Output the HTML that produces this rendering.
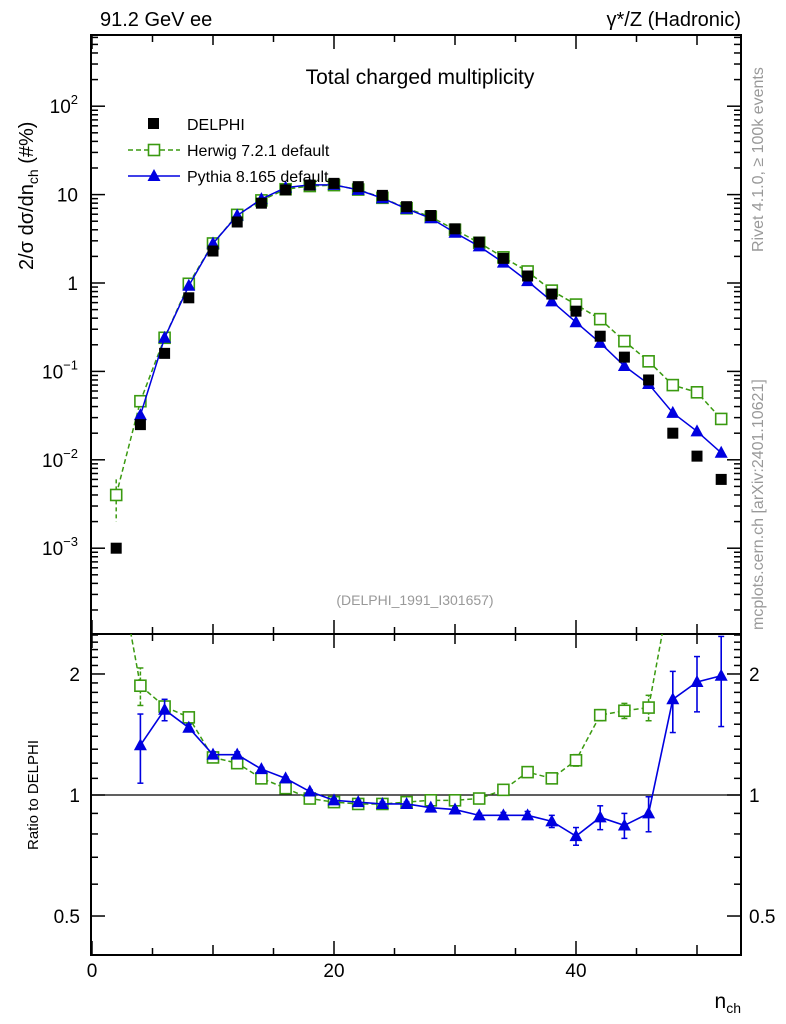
<!DOCTYPE html>
<html><head><meta charset="utf-8"><style>
body{margin:0;background:#fff;}
svg{display:block;font-family:"Liberation Sans",sans-serif;}
</style></head><body>
<svg id="c" width="786" height="1024" viewBox="0 0 786 1024"></svg>
<script>
const nvals=[2,4,6,8,10,12,14,16,18,20,22,24,26,28,30,32,34,36,38,40,42,44,46,48,50,52];
const delphi=[0.001,0.025,0.16,0.68,2.3,4.9,8.0,11.3,12.8,13.4,12.3,9.8,7.3,5.8,4.1,2.9,1.9,1.2,0.75,0.48,0.25,0.145,0.08,0.02,0.011,0.006];
const herwig=[0.004,0.046,0.24,0.98,2.8,5.9,8.6,11.5,12.5,12.8,11.4,9.2,7.0,5.6,4.0,2.85,1.95,1.35,0.82,0.57,0.39,0.22,0.13,0.07,0.058,0.029];
const pythiaN=[4,6,8,10,12,14,16,18,20,22,24,26,28,30,32,34,36,38,40,42,44,46,48,50,52];
const pythia=[0.032,0.24,0.93,2.8,5.8,8.9,12.0,12.9,12.9,11.3,9.1,6.9,5.4,3.7,2.6,1.7,1.05,0.62,0.36,0.21,0.115,0.072,0.034,0.021,0.012];
const herwigRatio=[4.0,1.87,1.66,1.56,1.24,1.2,1.1,1.04,0.98,0.96,0.95,0.95,0.96,0.97,0.97,0.98,1.03,1.14,1.1,1.22,1.58,1.62,1.65,3.5,5.3,4.8];
const herwigRatioErr=[0.5,0.2,0.05,0.03,0.02,0.02,0.01,0.01,0.01,0.01,0.01,0.01,0.01,0.01,0.01,0.01,0.01,0.02,0.02,0.04,0.05,0.07,0.12,0.3,0.5,0.6];
const pythiaRatio=[1.33,1.63,1.47,1.26,1.26,1.16,1.1,1.02,0.97,0.96,0.95,0.95,0.93,0.92,0.89,0.89,0.89,0.86,0.79,0.88,0.84,0.9,1.73,1.91,1.98];
const pythiaRatioErr=[0.26,0.1,0.03,0.02,0.02,0.01,0.01,0.01,0.01,0.01,0.01,0.01,0.01,0.01,0.01,0.015,0.02,0.03,0.04,0.06,0.06,0.09,0.3,0.3,0.5];
const xTicks=[0,20,40];

const NS='http://www.w3.org/2000/svg';
const svg=document.getElementById('c');
function el(t,a,p){const e=document.createElementNS(NS,t);for(const k in a)e.setAttribute(k,a[k]);(p||svg).appendChild(e);return e;}
const L=91,R=741,T=35,M=634,B=955;
const X=n=>92+n*12.1;
const Y=v=>283-Math.log10(v)*88.4;
const YR=v=>795-Math.log10(v)*402;

const f1=el('rect',{x:L,y:T,width:R-L,height:M-T,fill:'none',stroke:'#000','stroke-width':2});

const f2=el('rect',{x:L,y:M,width:R-L,height:B-M,fill:'none',stroke:'#000','stroke-width':2});


for(let n=0;n<=53;n+=5){const maj=n%20===0,mid=n%10===0;const len=maj?14:(mid?10:7);
 for(const [y0,s] of [[T,1],[M,-1],[M,1],[B,-1]]){el('line',{x1:X(n),x2:X(n),y1:y0,y2:y0+s*len,stroke:'#000','stroke-width':1.5});}}
xTicks.forEach(t=>{const tx=el('text',{x:X(t),y:977,'font-size':19,'text-anchor':'middle'});tx.textContent=t;
 });
const xt=el('text',{x:741,y:1008,'font-size':21,'text-anchor':'end'});xt.innerHTML='n<tspan font-size="14" dy="5">ch</tspan>';


for(let d=-4;d<=2;d++){for(let m=1;m<10;m++){const v=m*Math.pow(10,d);const y=Y(v);if(y<T||y>M)continue;const len=m===1?14:7;
 el('line',{x1:L,x2:L+len,y1:y,y2:y,stroke:'#000','stroke-width':1.5});el('line',{x1:R,x2:R-len,y1:y,y2:y,stroke:'#000','stroke-width':1.5});}}
const ylab=[[2,'10<tspan font-size="13" dy="-9">2</tspan>'],[1,'10'],[0,'1'],[-1,'10<tspan font-size="13" dy="-9">−1</tspan>'],[-2,'10<tspan font-size="13" dy="-9">−2</tspan>'],[-3,'10<tspan font-size="13" dy="-9">−3</tspan>']];
ylab.forEach(([d,s])=>{const t=el('text',{x:78,y:Y(Math.pow(10,d))+7,'font-size':19,'text-anchor':'end'});t.innerHTML=s;
 });
const yt=el('text',{transform:'translate(33,270) rotate(-90)','font-size':20});yt.innerHTML='2/σ  dσ/dn<tspan font-size="14" dy="5">ch</tspan><tspan dy="-5"> (#%)</tspan>';


[0.4,0.5,0.6,0.7,0.8,0.9,1,1.1,1.2,1.3,1.4,1.5,1.6,1.7,1.8,1.9,2,2.1,2.2,2.3,2.4,2.5].forEach(v=>{const y=YR(v);if(y<M||y>B)return;
 const maj=[0.5,1,2].includes(v)?14:7;el('line',{x1:L,x2:L+maj,y1:y,y2:y,stroke:'#000','stroke-width':1.5});el('line',{x1:R,x2:R-maj,y1:y,y2:y,stroke:'#000','stroke-width':1.5});});
[[2,'2'],[1,'1'],[0.5,'0.5']].forEach(([v,s])=>{for(const [x,a] of [[80,'end'],[749,'start']]){const t=el('text',{x:x,y:YR(v)+7,'font-size':19,'text-anchor':a});t.textContent=s;
 }});
const rt=el('text',{transform:'translate(38,795) rotate(-90)','font-size':15,'text-anchor':'middle'});rt.textContent='Ratio to DELPHI';

el('line',{x1:L,x2:R,y1:YR(1),y2:YR(1),stroke:'#000','stroke-width':1.2});

const defs=el('defs',{});
const c1=el('clipPath',{id:'cm'},defs);el('rect',{x:L,y:T,width:R-L,height:M-T},c1);
const c2=el('clipPath',{id:'cr'},defs);el('rect',{x:L,y:M,width:R-L,height:B-M},c2);
const gm=el('g',{'clip-path':'url(#cm)'});
const gr=el('g',{'clip-path':'url(#cr)'});

function sq(g,x,y,c){const r=el('rect',{x:x-5.5,y:y-5.5,width:11,height:11,fill:'#fff',stroke:c,'stroke-width':1.6},g);}
function tri(g,x,y){const p=el('polygon',{points:`${x},${y-7} ${x-6.5},${y+5} ${x+6.5},${y+5}`,fill:'#0000e0'},g);}
const G='#3a9a10',Bl='#0000e0';

el('polyline',{points:nvals.map((n,i)=>X(n)+','+Y(herwig[i])).join(' '),fill:'none',stroke:G,'stroke-width':1.5,'stroke-dasharray':'5,3'},gm);
el('line',{x1:X(2),x2:X(2),y1:Y(0.006),y2:Y(0.002),stroke:G,'stroke-width':1.5,'stroke-dasharray':'4,3'},gm);
nvals.forEach((n,i)=>sq(gm,X(n),Y(herwig[i]),G));
el('polyline',{points:pythiaN.map((n,i)=>X(n)+','+Y(pythia[i])).join(' '),fill:'none',stroke:Bl,'stroke-width':1.5},gm);
pythiaN.forEach((n,i)=>tri(gm,X(n),Y(pythia[i])));
nvals.forEach((n,i)=>{const r=el('rect',{x:X(n)-5.5,y:Y(delphi[i])-5.5,width:11,height:11,fill:'#000'},gm);});

el('polyline',{points:nvals.map((n,i)=>X(n)+','+YR(herwigRatio[i])).join(' '),fill:'none',stroke:G,'stroke-width':1.5,'stroke-dasharray':'5,3'},gr);
nvals.forEach((n,i)=>{const lo=YR(herwigRatio[i]-herwigRatioErr[i]),hi=YR(herwigRatio[i]+herwigRatioErr[i]);
 el('line',{x1:X(n),x2:X(n),y1:lo,y2:hi,stroke:G,'stroke-width':1.5,'stroke-dasharray':'4,2'},gr);
 el('line',{x1:X(n)-3,x2:X(n)+3,y1:lo,y2:lo,stroke:G,'stroke-width':1.5},gr);el('line',{x1:X(n)-3,x2:X(n)+3,y1:hi,y2:hi,stroke:G,'stroke-width':1.5},gr);
 sq(gr,X(n),YR(herwigRatio[i]),G);});
el('polyline',{points:pythiaN.map((n,i)=>X(n)+','+YR(pythiaRatio[i])).join(' '),fill:'none',stroke:Bl,'stroke-width':1.6},gr);
pythiaN.forEach((n,i)=>{const lo=YR(pythiaRatio[i]-pythiaRatioErr[i]),hi=YR(pythiaRatio[i]+pythiaRatioErr[i]);
 el('line',{x1:X(n),x2:X(n),y1:lo,y2:hi,stroke:Bl,'stroke-width':1.6},gr);
 el('line',{x1:X(n)-3,x2:X(n)+3,y1:lo,y2:lo,stroke:Bl,'stroke-width':1.5},gr);el('line',{x1:X(n)-3,x2:X(n)+3,y1:hi,y2:hi,stroke:Bl,'stroke-width':1.5},gr);
 tri(gr,X(n),YR(pythiaRatio[i]));});

function txt(x,y,s,a,size,fill,name,extra){const t=el('text',Object.assign({x:x,y:y,'font-size':size,'text-anchor':a,fill:fill},extra||{}));t.innerHTML=s;return t;}
txt(100,26,'91.2 GeV ee','start',20,'#000','top-left-label');
txt(741,26,'γ*/Z (Hadronic)','end',20,'#000','top-right-label');
txt(420,84,'Total charged multiplicity','middle',21,'#000','plot-title');
txt(415,605,'(DELPHI_1991_I301657)','middle',14,'#999','analysis-id');
txt(0,0,'Rivet 4.1.0, ≥ 100k events','start',16,'#999','rivet-label',{transform:'translate(763,252) rotate(-90)'});
txt(0,0,'mcplots.cern.ch [arXiv:2401.10621]','start',16,'#999','mcplots-label',{transform:'translate(763,630) rotate(-90)'});

const lg=el('g',{});
el('rect',{x:148,y:118,width:11,height:11,fill:'#000'},lg);
txt(187,130,'DELPHI','start',16,'#000','legend-entry-delphi');
el('line',{x1:128,x2:180,y1:150,y2:150,stroke:G,'stroke-width':1.5,'stroke-dasharray':'5,3'},lg);
el('rect',{x:148.5,y:144.5,width:11,height:11,fill:'#fff',stroke:G,'stroke-width':1.6},lg);
txt(187,156,'Herwig 7.2.1 default','start',16,'#000','legend-entry-herwig');
el('line',{x1:128,x2:180,y1:176,y2:176,stroke:Bl,'stroke-width':1.5},lg);
el('polygon',{points:'154,169 147.5,181 160.5,181',fill:Bl},lg);
txt(187,182,'Pythia 8.165 default','start',16,'#000','legend-entry-pythia');
</script>
</body></html>
